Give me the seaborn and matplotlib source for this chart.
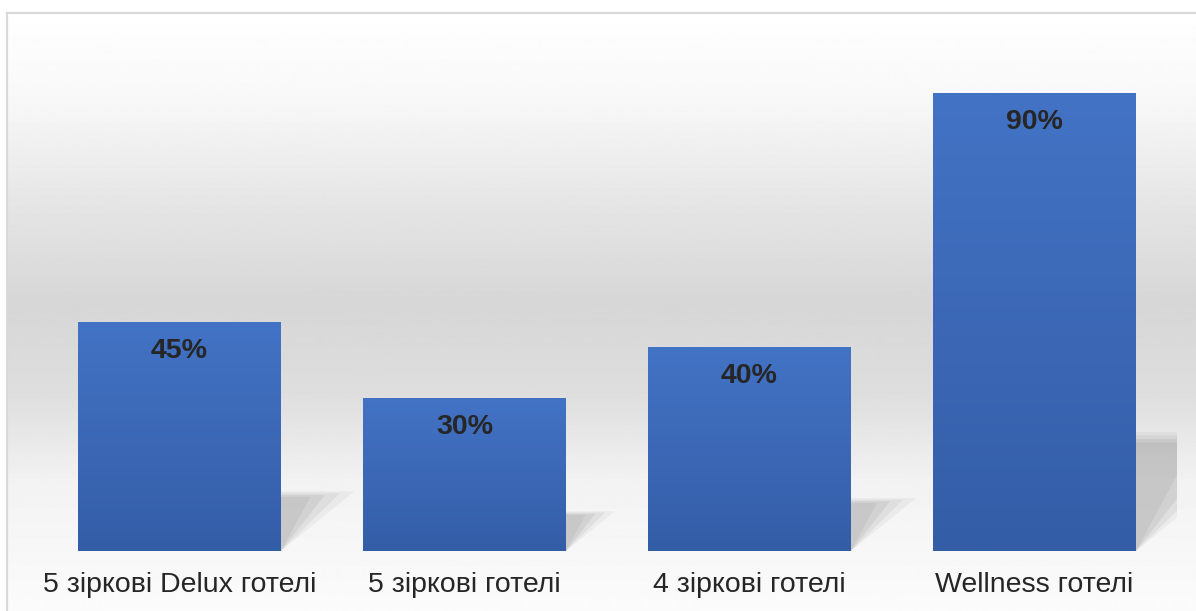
import numpy as np
import pandas as pd
import matplotlib
matplotlib.use("Agg")
import matplotlib.pyplot as plt
from matplotlib.patches import Polygon
import seaborn as sns

# дані
categories = ["5 зіркові Delux готелі", "5 зіркові готелі", "4 зіркові готелі", "Wellness готелі"]
values = [45, 30, 40, 90]
labels = ["45%", "30%", "40%", "90%"]

df = pd.DataFrame({"cat": categories, "val": values})

sns.set_style("white")
plt.rcParams["font.family"] = ["Liberation Sans", "DejaVu Sans"]

W, H = 1196, 611
fig = plt.figure(figsize=(W / 100, H / 100), dpi=100)
fig.patch.set_facecolor("white")

# фон області діаграми (градієнт білий -> сірий -> білий)
bg = fig.add_axes([7 / W, 0, 1 - 7 / W, (H - 13) / H])
ys = np.array([0, 90, 190, 290, 380, 470, 598])
gs = np.array([1.0, 0.97, 0.90, 0.84, 0.87, 0.95, 0.985])
yy = np.linspace(0, 598, 600)
col = np.interp(yy, ys, gs)
img = np.repeat(col[:, None], 2, axis=1)
bg.imshow(img, aspect="auto", cmap="gray", vmin=0, vmax=1, extent=[0, 1, 598, 0])
bg.set_xlim(0, 1)
bg.set_ylim(598, 0)
bg.set_xticks([])
bg.set_yticks([])
for s in ["right", "bottom"]:
    bg.spines[s].set_visible(False)
for s in ["left", "top"]:
    bg.spines[s].set_color("#d9d9d9")
    bg.spines[s].set_linewidth(1.6)
bg.set_zorder(0)

ax = fig.add_axes([37 / W, 60 / H, 1140 / W, 509 / H])
ax.set_zorder(1)
ax.patch.set_alpha(0)
sns.barplot(data=df, x="cat", y="val", color="#3d69b8", width=0.712, ax=ax,
            zorder=3, linewidth=0, edgecolor="none")

ax.set_xlim(-0.5, 3.5)
ax.set_ylim(0, 100)
ax.set_yticks([])
ax.set_xlabel("")
ax.set_ylabel("")
sns.despine(ax=ax, left=True, bottom=True)
ax.tick_params(axis="x", length=0, pad=15, labelsize=20.5, labelcolor="#262626")

top_c = np.array([0x43, 0x73, 0xc5]) / 255
bot_c = np.array([0x34, 0x5d, 0xa7]) / 255
grad = np.linspace(0, 1, 256)[:, None]
gimg = top_c[None, None, :] * (1 - grad[:, :, None]) + bot_c[None, None, :] * grad[:, :, None]
gimg = np.repeat(gimg, 2, axis=1)

for p, v, lab in zip(ax.patches, values, labels):
    x0, w = p.get_x(), p.get_width()
    # тінь
    sh_w = 0.00572 * v
    sh_h = 0.26 * v
    for k, a in zip([1.0, 0.8, 0.6, 0.4], [0.07, 0.09, 0.11, 0.10]):
        poly = Polygon([(x0 + w, sh_h * (0.85 + 0.15 * k)), (x0 + w + sh_w * k, sh_h * (0.85 + 0.15 * k)),
                        (x0 + w, 0)],
                       closed=True, facecolor="#707070", edgecolor="none", alpha=a, zorder=2)
        ax.add_patch(poly)
    # градієнт стовпчика
    im = ax.imshow(gimg, aspect="auto", extent=[x0, x0 + w, 0, v], zorder=4)
    im.set_clip_path(p)
    ax.text(x0 + w / 2, v - 5.7, lab, ha="center", va="center", fontsize=20.5,
            fontweight="bold", color="#262626", zorder=5)

ax.set_xlim(-0.5, 3.5)
ax.set_ylim(0, 100)

fig.savefig("out.png", dpi=100)
